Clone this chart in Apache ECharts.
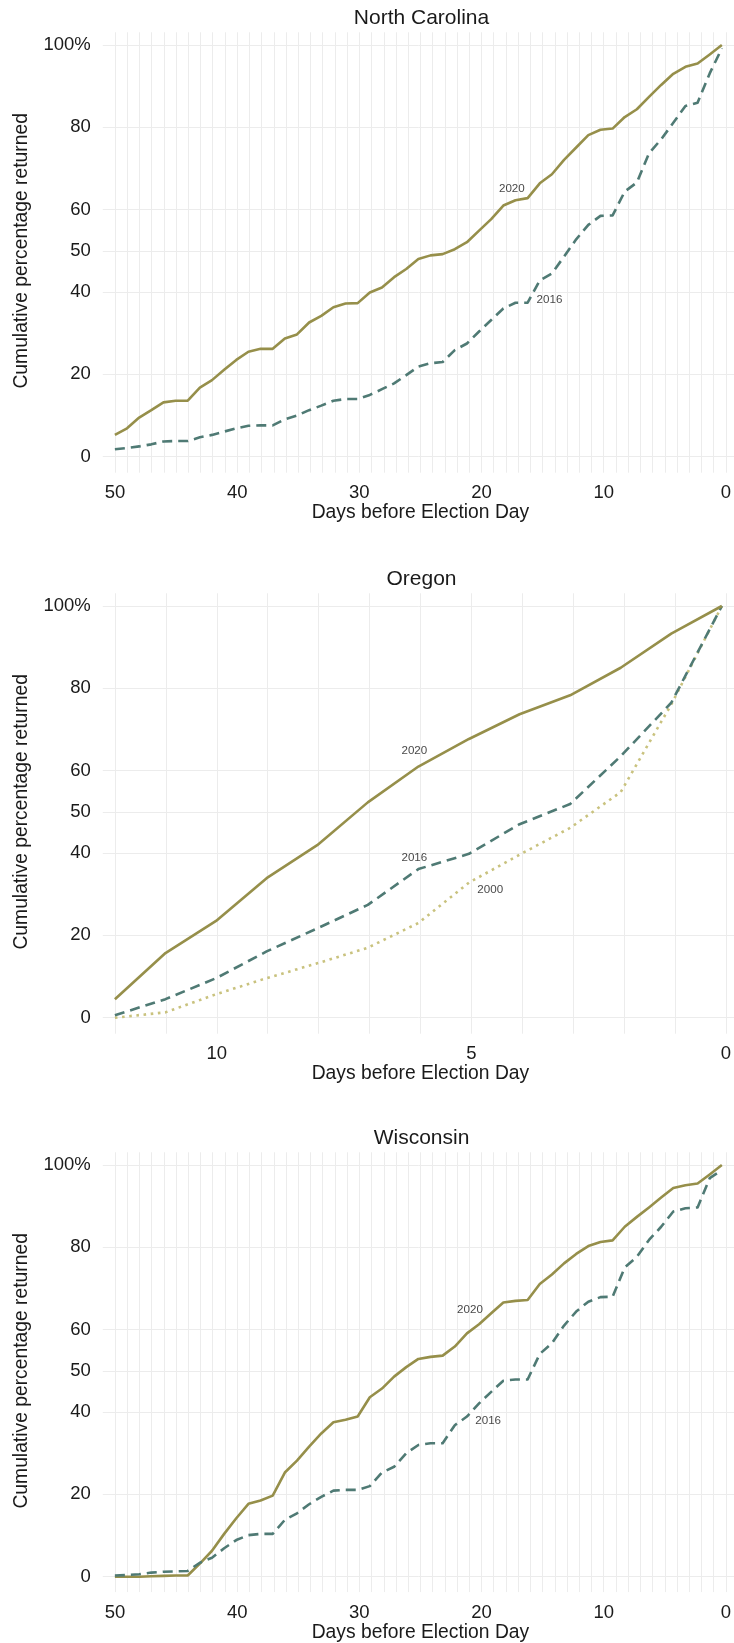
<!DOCTYPE html>
<html>
<head>
<meta charset="utf-8">
<script src="https://cdn.jsdelivr.net/npm/echarts@6/dist/echarts.min.js"></script>
<style>
html,body{margin:0;padding:0;background:#ffffff;}
#chart{width:734px;height:1643px;}
</style>
</head>
<body>
<div id="chart"></div>
<script>
// ---------- DATA ----------
const panelTitles = ['North Carolina', 'Oregon', 'Wisconsin'];
const longDays = [50,49,48,47,46,45,44,43,42,41,40,39,38,37,36,35,34,33,32,31,30,29,28,27,26,25,24,23,22,21,20,19,18,17,16,15,14,13,12,11,10,9,8,7,6,5,4,3,2,1,0];
const shortDays = [12,11,10,9,8,7,6,5,4,3,2,1,0];
const yTicks = [0, 20, 40, 50, 60, 80, 100];
const longXLabels = [50, 40, 30, 20, 10, 0];
const shortXLabels = [10, 5, 0];

const nc2020 = [5.3,6.9,9.5,11.3,13.2,13.6,13.6,16.8,18.6,21.1,23.5,25.5,26.2,26.2,28.7,29.7,32.6,34.2,36.3,37.2,37.3,39.9,41.1,43.6,45.6,48.0,48.9,49.2,50.4,52.1,54.9,57.7,61.0,62.3,62.8,66.4,68.6,72.1,75.1,78.1,79.4,79.7,82.5,84.4,87.4,90.3,93.0,94.7,95.5,97.7,100];
const nc2016 = [1.8,2.1,2.5,3.0,3.7,3.8,3.8,4.7,5.3,6.1,6.9,7.5,7.6,7.6,9.1,10.0,11.3,12.4,13.6,14.0,14.0,15.0,16.4,17.8,19.8,21.9,22.7,23.0,25.9,27.5,30.4,33.2,36.0,37.4,37.4,42.8,44.5,48.6,52.8,56.3,58.5,58.6,64.4,66.6,73.7,77.1,81.1,85.2,86.0,93.1,99.2];

const or2020 = [4.5,15.7,23.5,33.9,41.9,52.3,61.0,67.7,73.7,78.3,85.0,93.3,100];
const or2016 = [0.6,4.5,9.6,16.1,21.7,27.4,36.1,39.8,47.0,51.9,63.5,76.5,100];
const or2000 = [0,1.3,5.7,9.6,13.2,17.0,23.0,32.8,39.6,46.1,54.8,76.1,100];

const wi2020 = [0,0,0,0.1,0.2,0.3,0.3,3.2,6.3,10.4,14.2,17.7,18.5,19.7,25.3,28.2,31.6,34.8,37.5,38.1,38.9,43.6,45.7,48.6,50.9,52.9,53.4,53.7,55.9,59.1,61.3,64.0,66.6,67.0,67.2,71.1,73.4,76.1,78.4,80.3,81.3,81.7,85.0,87.4,89.7,92.1,94.4,95.1,95.5,97.7,100];
const wi2016 = [0.3,0.4,0.6,1.0,1.2,1.3,1.4,3.4,4.6,6.9,8.9,10.1,10.4,10.4,13.8,15.4,17.6,19.4,20.9,21.1,21.1,22.0,25.3,26.7,30.0,32.0,32.4,32.4,36.8,38.9,42.1,44.9,47.6,47.9,47.9,54.1,56.7,61.0,64.4,66.8,67.9,68.0,75.1,77.7,81.8,85.0,88.7,89.5,89.7,96.8,98.8];

// annotation labels (day, value, text)
const ncNoteDays = [17.3, 14.2];
const ncNoteValues = [65, 38];
const ncNoteTexts = ['2020', '2016'];
const orNoteDays = [6.08, 6.08, 4.58];
const orNoteValues = [64.9, 38.8, 31.0];
const orNoteTexts = ['2020', '2016', '2000'];
const wiNoteDays = [20.75, 19.25];
const wiNoteValues = [64.8, 37.9];
const wiNoteTexts = ['2020', '2016'];

// ---------- STYLE / LAYOUT ----------
const FONT = "'Liberation Sans', Arial, Helvetica, sans-serif";
const TXT = '#1a1a1a';
const GRID_C = '#ececec';
const C2020 = '#968f4a';
const C2016 = '#4f7a74';
const C2000 = '#c9c27e';
const panelOffsets = [0, 561, 1120];

const styles = {
  '2020': { color: C2020, width: 2.6, type: 'solid' },
  '2016': { color: C2016, width: 2.6, type: [10, 6] },
  '2000': { color: C2000, width: 2.6, type: [2.6, 4.6] }
};

const panels = [
  { title: panelTitles[0], days: longDays, xLabels: longXLabels,
    series: [['2020', nc2020], ['2016', nc2016]],
    notes: [ncNoteDays, ncNoteValues, ncNoteTexts] },
  { title: panelTitles[1], days: shortDays, xLabels: shortXLabels,
    series: [['2000', or2000], ['2016', or2016], ['2020', or2020]],
    notes: [orNoteDays, orNoteValues, orNoteTexts] },
  { title: panelTitles[2], days: longDays, xLabels: longXLabels,
    series: [['2020', wi2020], ['2016', wi2016]],
    notes: [wiNoteDays, wiNoteValues, wiNoteTexts] }
];

const option = {
  animation: false,
  backgroundColor: '#ffffff',
  title: [], grid: [], xAxis: [], yAxis: [], series: []
};

const yRange = [];
for (let v = 0; v <= 100; v += 10) yRange.push(v);
const yLineColors = yRange.map(v => yTicks.includes(v) ? GRID_C : 'rgba(0,0,0,0)');

panels.forEach((p, i) => {
  const oy = panelOffsets[i];
  const maxDay = p.days[0];
  const pad = maxDay * 12.25 / 612;
  const gv = 2 * i, gh = 2 * i + 1;

  option.title.push({
    text: p.title, left: 421.5, top: 7.5 + oy, textAlign: 'center', padding: 0,
    textStyle: { fontFamily: FONT, fontSize: 21, fontWeight: 'normal', color: TXT }
  });

  // grid for vertical gridlines + x labels
  option.grid.push({ left: 115, width: 612, top: 32.3 + oy, height: 440.4 });
  // grid for data + horizontal gridlines + y labels
  option.grid.push({ left: 102.75, width: 637, top: 45 + oy, height: 411.7 });

  option.xAxis.push({
    gridIndex: gv, type: 'value', inverse: true, min: 0, max: maxDay, interval: 1,
    axisLine: { show: false }, axisTick: { show: false },
    splitLine: { show: true, lineStyle: { color: GRID_C, width: 1 } },
    axisLabel: {
      margin: 11, fontFamily: FONT, fontSize: 18.5, color: TXT,
      formatter: v => p.xLabels.includes(v) ? String(v) : ''
    },
    name: 'Days before Election Day', nameLocation: 'middle', nameGap: 29,
    nameTextStyle: { fontFamily: FONT, fontSize: 19.3, color: TXT }
  });
  option.yAxis.push({ gridIndex: gv, type: 'value', min: 0, max: 1, show: false });

  option.xAxis.push({
    gridIndex: gh, type: 'value', inverse: true, min: -pad, max: maxDay + pad, show: false
  });
  option.yAxis.push({
    gridIndex: gh, type: 'value', min: 0, max: 100, interval: 10,
    axisLine: { show: false }, axisTick: { show: false },
    splitLine: { show: true, lineStyle: { color: yLineColors, width: 1 } },
    axisLabel: {
      margin: 12, fontFamily: FONT, fontSize: 18.5, color: TXT,
      formatter: v => yTicks.includes(v) ? (v === 100 ? '100%' : String(v)) : ''
    },
    name: 'Cumulative percentage returned', nameLocation: 'middle', nameGap: 72,
    nameTextStyle: { fontFamily: FONT, fontSize: 19.3, color: TXT }
  });

  p.series.forEach(([yr, vals]) => {
    const st = styles[yr];
    option.series.push({
      type: 'line', name: p.title + ' ' + yr, xAxisIndex: gh, yAxisIndex: gh,
      data: p.days.map((d, k) => [d, vals[k]]),
      showSymbol: false, symbol: 'none', clip: false, z: 3,
      lineStyle: { color: st.color, width: st.width, type: st.type, join: 'round', cap: 'butt' }
    });
  });

  const [nd, nv, nt] = p.notes;
  option.series.push({
    type: 'scatter', xAxisIndex: gh, yAxisIndex: gh, clip: false, z: 5,
    symbolSize: 1, itemStyle: { color: 'rgba(0,0,0,0)' }, silent: true,
    data: nd.map((d, k) => [d, nv[k], nt[k]]),
    label: {
      show: true, position: 'inside', formatter: q => q.value[2],
      fontFamily: FONT, fontSize: 11.6, color: '#141414'
    }
  });
});

const chart = echarts.init(document.getElementById('chart'), null, { renderer: 'canvas' });
chart.setOption(option);
</script>
</body>
</html>
